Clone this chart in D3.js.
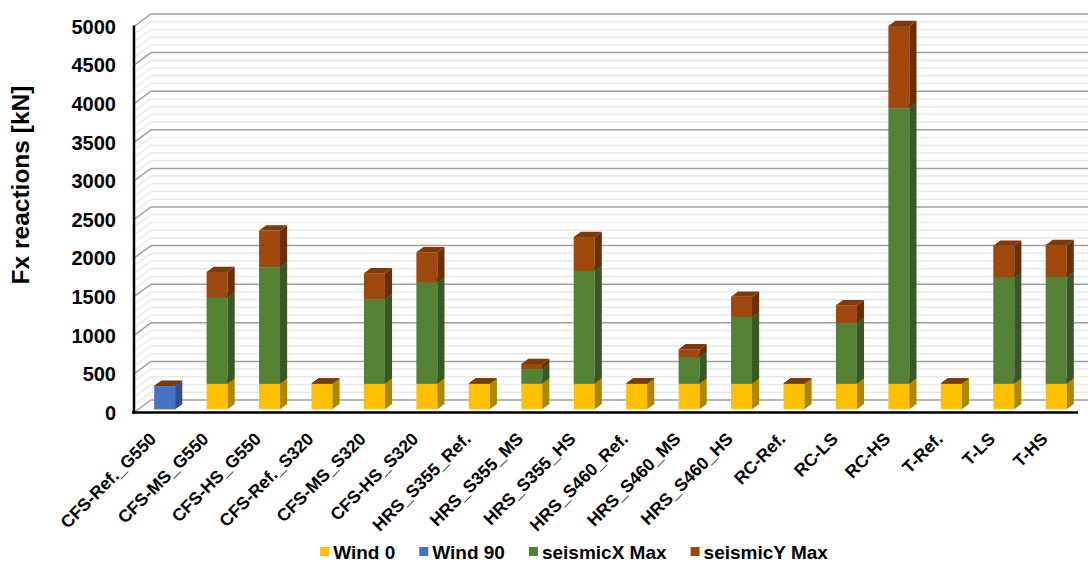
<!DOCTYPE html>
<html>
<head>
<meta charset="utf-8">
<script src="https://cdn.jsdelivr.net/npm/d3@7"></script>
<style>
  body { margin: 0; background: #fff; }
  svg text { font-family: "Liberation Sans", Arial, sans-serif; font-weight: bold; fill: #000; }
</style>
</head>
<body>
<div id="grafico"></div>
<script>
const categories = ["CFS-Ref._G550", "CFS-MS_G550", "CFS-HS_G550", "CFS-Ref._S320", "CFS-MS_S320", "CFS-HS_S320",
  "HRS_S355_Ref.", "HRS_S355_MS", "HRS_S355_HS", "HRS_S460_Ref.", "HRS_S460_MS", "HRS_S460_HS",
  "RC-Ref.", "RC-LS", "RC-HS", "T-Ref.", "T-LS", "T-HS"];
const wind0     = [0, 335, 335, 335, 335, 335, 335, 335, 335, 335, 335, 335, 335, 335, 335, 335, 335, 335];
const wind90    = [300, 0, 0, 0, 0, 0, 0, 0, 0, 0, 0, 0, 0, 0, 0, 0, 0, 0];
const seismicX  = [0, 1110, 1505, 0, 1090, 1305, 0, 186, 1456, 0, 333, 860, 0, 778, 3563, 0, 1369, 1378];
const seismicY  = [0, 333, 475, 0, 337, 394, 0, 65, 440, 0, 109, 263, 0, 234, 1066, 0, 415, 415];
const seriesNames = ["Wind 0", "Wind 90", "seismicX Max", "seismicY Max"];
const yTicks = [0, 500, 1000, 1500, 2000, 2500, 3000, 3500, 4000, 4500, 5000];

const width = 1088, height = 564;
const front = { left: 134, right: 1078, bottom: 412.5, top: 26.5 };
const depth = [17, -12.5];          // vector del plano frontal a la pared trasera
const barDepth = [0.26, 0.68];      // posicion frontal / trasera de las barras

// colores: cara frontal, lateral, superior
const colors = {
  "Wind 0":       ["#FFC000", "#B08600", "#C99800"],
  "Wind 90":      ["#4472C4", "#2E4F8A", "#365C9E"],
  "seismicX Max": ["#548235", "#375725", "#436A2A"],
  "seismicY Max": ["#9E480E", "#6B2F08", "#7E390A"],
};

const data = categories.map((c, i) => ({
  cat: c, "Wind 0": wind0[i], "Wind 90": wind90[i],
  "seismicX Max": seismicX[i], "seismicY Max": seismicY[i],
}));

const svg = d3.select("#grafico").append("svg")
  .attr("width", width).attr("height", height);

const y = d3.scaleLinear().domain([0, 5000]).range([front.bottom, front.top]);
const x = d3.scaleBand().domain(categories)
  .range([front.left, front.right]).paddingInner(0.6).paddingOuter(0.3);

// punto proyectado: x en el plano frontal, valor, profundidad 0..1
const P = (px, v, d) => [px + d * depth[0], y(v) + d * depth[1]];
const poly = (pts) => pts.map((p) => p.join(",")).join(" ");

// Piso
svg.append("polygon")
  .attr("points", poly([P(front.left, 0, 0), P(front.right, 0, 0), P(width + 20, 0, 1), P(front.left, 0, 1)]))
  .attr("fill", "#fff");

// Rejilla menor y mayor (pared trasera + lateral)
const minor = d3.range(0, 5001, 100).filter((v) => v % 500 !== 0);
const grid = svg.append("g");
minor.forEach((v) => {
  const a = P(front.left, v, 0), b = P(front.left, v, 1);
  grid.append("polyline")
    .attr("points", poly([a, b, [width + 5, b[1]]]))
    .attr("fill", "none").attr("stroke", "#e9e9e9").attr("stroke-width", 1.5);
});
yTicks.forEach((v) => {
  const a = P(front.left, v, 0), b = P(front.left, v, 1);
  grid.append("polyline")
    .attr("points", poly([a, b, [width + 5, b[1]]]))
    .attr("fill", "none").attr("stroke", "#a0a0a0").attr("stroke-width", 1.5);
});

// Barras 3D apiladas
const stack = d3.stack().keys(seriesNames)(data);
const bars = svg.append("g");
data.forEach((d, i) => {
  const xl = x(d.cat), xr = xl + x.bandwidth();
  const [d0, d1] = barDepth;
  stack.forEach((s) => {
    const [v0, v1] = s[i];
    const c = colors[s.key];
    const g = bars.append("g");
    if (v1 > v0) {
      g.append("polygon")
        .attr("points", poly([P(xl, v0, d0), P(xr, v0, d0), P(xr, v1, d0), P(xl, v1, d0)]))
        .attr("fill", c[0]);
      g.append("polygon")
        .attr("points", poly([P(xr, v0, d0), P(xr, v0, d1), P(xr, v1, d1), P(xr, v1, d0)]))
        .attr("fill", c[1]);
    }
    g.append("polygon")
      .attr("points", poly([P(xl, v1, d0), P(xr, v1, d0), P(xr, v1, d1), P(xl, v1, d1)]))
      .attr("fill", c[2]);
  });
});

// Ejes
svg.append("line")
  .attr("x1", front.left).attr("x2", front.left)
  .attr("y1", y(5000) - 1).attr("y2", y(0) + 1)
  .attr("stroke", "#000").attr("stroke-width", 2.5);
svg.append("line")
  .attr("x1", front.left - 2).attr("x2", front.right)
  .attr("y1", y(0)).attr("y2", y(0))
  .attr("stroke", "#000").attr("stroke-width", 2.5);

// Etiquetas eje Y
svg.append("g").selectAll("text").data(yTicks).join("text")
  .attr("x", 116).attr("y", (v) => y(v))
  .attr("dy", "0.36em")
  .attr("text-anchor", "end")
  .style("font-size", "20px")
  .text((v) => v);

// Titulo eje Y
svg.append("text")
  .attr("transform", "translate(29,185) rotate(-90)")
  .attr("text-anchor", "middle")
  .style("font-size", "24.5px")
  .text("Fx reactions [kN]");

// Etiquetas categorias
svg.append("g").selectAll("text").data(categories).join("text")
  .attr("transform", (c) => `translate(${x(c) + x.bandwidth() / 2 - 3},440) rotate(-45)`)
  .attr("text-anchor", "end")
  .style("font-size", "17.5px")
  .text((c) => c);

// Leyenda
const legend = svg.append("g");
let lx = 0;
seriesNames.forEach((name) => {
  const g = legend.append("g").attr("transform", `translate(${lx},0)`);
  g.append("rect").attr("x", 0).attr("y", -12).attr("width", 9).attr("height", 9)
    .attr("fill", colors[name][0]);
  const t = g.append("text").attr("x", 13).attr("y", 0)
    .style("font-size", "19px").text(name);
  lx += 13 + t.node().getComputedTextLength() + 24;
});
lx -= 24;
legend.attr("transform", `translate(${574 - lx / 2},559)`);
</script>
</body>
</html>
